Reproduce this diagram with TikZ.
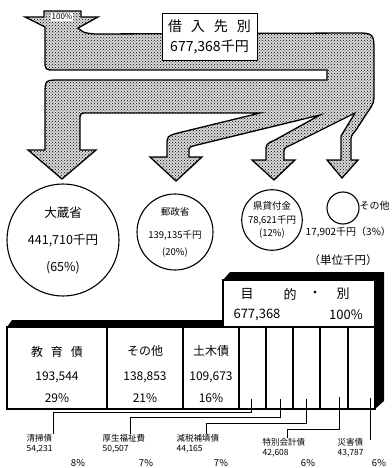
\documentclass[tikz,border=0pt]{standalone}
\usepackage{fontspec}
\setmainfont{Noto Sans CJK JP}
\usepackage{tikz}
\usetikzlibrary{patterns}

\begin{document}
\begin{tikzpicture}[x=1pt,y=-1pt]
% Styles ---
\tikzstyle{flow} = [draw = black, line width = 1.3pt, fill = gray!30, postaction = {pattern = crosshatch dots}] % Shaded flow band
\tikzstyle{title} = [rectangle, draw = black, thick, fill = white, minimum width = 95pt, minimum height = 47pt, align = center, font = {\fontsize{14}{20}\selectfont}] % Source box
\tikzstyle{big} = [circle, draw = black, line width = 1.1pt, minimum size = 112pt, inner sep = 0pt, align = center, font = {\fontsize{12.5}{27}\selectfont}] % Lenders
\tikzstyle{mid} = [circle, draw = black, line width = 1.1pt, minimum size = 76pt, inner sep = 0pt, align = center, font = {\fontsize{9.5}{17}\selectfont}]
\tikzstyle{sml} = [circle, draw = black, line width = 1.1pt, minimum size = 60pt, inner sep = 0pt, align = center, font = {\fontsize{9.5}{13.5}\selectfont}]
\tikzstyle{tny} = [circle, draw = black, line width = 1.1pt, minimum size = 32pt, inner sep = 0pt]
\tikzstyle{txt} = [inner sep = 0.5pt, font = {\fontsize{10}{12}\selectfont}]
\tikzstyle{cell} = [inner sep = 0.5pt, font = {\fontsize{12}{14}\selectfont}] % Table entries
\tikzstyle{head} = [inner sep = 0.5pt, font = {\fontsize{13}{15}\selectfont}]
\tikzstyle{lab} = [anchor = north west, inner sep = 0.5pt, align = left, font = {\fontsize{8.5}{9.5}\selectfont}] % Purposes below
\tikzstyle{pct} = [inner sep = 0.5pt, font = {\fontsize{9.5}{10}\selectfont}]
\tikzstyle{tab} = [draw = black, line width = 1.1pt]
\tikzstyle{lead} = [draw = black, line width = 0.9pt] % Leader lines
\useasboundingbox (0,0) rectangle (391,468);
% Flow band ---
\path[flow] (45,27) -- (45,60) .. controls (45,70) .. (55,70) -- (327,70) -- (327,80)
  -- (60,80) .. controls (45,80) .. (45,95) -- (45,150) -- (28,150) -- (62,179) -- (96,150) -- (80,150)
  -- (80,121) .. controls (80,113) .. (88,113) -- (260,113)
  -- (178,133) .. controls (167,136) .. (167,146) -- (167,157) -- (150,157) -- (176,181) -- (202,157) -- (189,157)
  -- (189,152) .. controls (189,147) .. (197,145) -- (320,115)
  -- (275,140) .. controls (266,144) .. (266,152) -- (266,160) -- (252,160) -- (274,180) -- (295,160) -- (284,160)
  -- (284,154) .. controls (284,148) .. (291,145) -- (355,113)
  -- (341,136) -- (341,160) -- (327,160) -- (342,178) -- (358,160) -- (351,160)
  -- (351,142) .. controls (351,136) .. (356,130) -- (367,113) .. controls (374,103) .. (374,92)
  -- (374,53) .. controls (374,33) .. (354,33) -- (95,34) .. controls (84,33) .. (78,28)
  -- (98,17) -- (81,17) -- (81,11) -- (44,11) -- (44,17) -- (25,17) -- cycle;
\node at (62,17) [fill = white, inner sep = 1pt, font = {\fontsize{8}{9}\selectfont}] (all) {100\%};
\node at (209.5,36.5) [title] (src) {借\hspace{9pt}入\hspace{9pt}先\hspace{9pt}別\\677,368千円};
% Lenders ---
\node at (63,240) [big] (okura) {大蔵省\\441,710千円\\(65\%)};
\node at (175,232) [mid] (yusei) {郵政省\\[6pt]139,135千円\\(20\%)};
\node at (272,220) [sml] (ken) {県貸付金\\78,621千円\\(12\%)};
\node at (343,208) [tny] (etc) {};
\node at (359,206) [txt, anchor = west] (etcname) {その他};
\node at (305,232) [txt, anchor = west] (etcval) {17,902千円（3\%）};
\node at (343,260) [txt, font = {\fontsize{11.5}{13}\selectfont}] (unit) {（単位千円）};
% Table ---
\fill (7,327) -- (12,320) -- (223,320) -- (223,327) -- cycle;
\fill (223,280) -- (230,272) -- (384,272) -- (384,401) -- (375,409) -- (375,280) -- cycle;
\draw[tab, fill = white] (223,280) rectangle (375,327);
\draw[tab] (7,327) rectangle (375,409);
\foreach \x in {107,183,239,266,293,320,348} \draw[tab] (\x,327) -- (\x,409);
\node at (247,294) [head] (h1) {目};
\node at (290,294) [head] (h2) {的};
\node at (315,294) [head] (h3) {・};
\node at (343,294) [head] (h4) {別};
\node at (257,315) [head] (htot) {677,368};
\node at (346,315) [head] (hpct) {100\%};
\node at (57,352) [cell] (kyo) {教\hspace{8pt}育\hspace{8pt}債};
\node at (57,377) [cell] (kyov) {193,544};
\node at (57,398) [cell] (kyop) {29\%};
\node at (145,351) [cell] (oth) {その他};
\node at (145,377) [cell] (othv) {138,853};
\node at (145,398) [cell] (othp) {21\%};
\node at (211,351) [cell] (dob) {土木債};
\node at (211,377) [cell] (dobv) {109,673};
\node at (211,398) [cell] (dobp) {16\%};
% Purposes below ---
\node at (26,434) [lab] (sei) {清掃債\\54,231};
\node at (102,434) [lab] (kou) {厚生福祉費\\50,507};
\node at (176,434) [lab] (gen) {減税補填債\\44,165};
\node at (262,438) [lab] (tok) {特別会計債\\42,608};
\node at (337,438) [lab] (sai) {災害債\\43,787};
\node at (78,463) [pct] (seip) {8\%};
\node at (146,463) [pct] (koup) {7\%};
\node at (221,463) [pct] (genp) {7\%};
\node at (308,463) [pct] (tokp) {6\%};
\node at (379,463) [pct] (saip) {6\%};
% Leaders
\coordinate (t5) at (251,399); \coordinate (b5) at (251,412);
\coordinate (t6) at (280,399); \coordinate (b6) at (280,417);
\coordinate (t7) at (306,399); \coordinate (b7) at (306,423);
\coordinate (t8) at (339,397); \coordinate (b8) at (339,429);
\coordinate (t9) at (370,398); \coordinate (b9) at (370,440);
\draw[lead] (t5) -- (b5) -| (sei.north east);
\draw[lead] (t6) -- (b6) -| ([xshift = 6pt]kou.north);
\draw[lead] (t7) -- (b7) -| ([xshift = 8pt]gen.north);
\draw[lead] (t8) -- (b8) -| ([xshift = 3pt]tok.north);
\draw[lead] (t9) -- (b9);
\end{tikzpicture}
\end{document}
